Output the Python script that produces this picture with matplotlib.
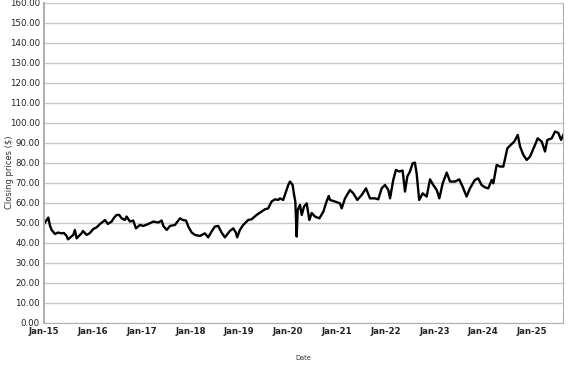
import numpy as np
import pandas as pd
import matplotlib
matplotlib.use("Agg")
import matplotlib.pyplot as plt
import matplotlib.dates as mdates
from matplotlib.ticker import FormatStrFormatter

# closing prices
dates = [
    "2015-01-02", "2015-01-16", "2015-02-02", "2015-02-15", "2015-02-27", "2015-03-24",
    "2015-04-15", "2015-05-13", "2015-05-30", "2015-06-19", "2015-06-29", "2015-07-21",
    "2015-08-08", "2015-08-20", "2015-09-02", "2015-09-19", "2015-10-09", "2015-10-19",
    "2015-11-16", "2015-12-11", "2016-01-05", "2016-01-30", "2016-02-24", "2016-03-19",
    "2016-04-01", "2016-04-23", "2016-05-21", "2016-06-07", "2016-06-27", "2016-07-17",
    "2016-08-04", "2016-08-29", "2016-09-10", "2016-10-05", "2016-10-30", "2016-11-19",
    "2016-12-19", "2017-01-13", "2017-02-20", "2017-03-29", "2017-05-05", "2017-05-31",
    "2017-06-12", "2017-07-07", "2017-08-01", "2017-09-07", "2017-09-20", "2017-10-15",
    "2017-11-04", "2017-11-29", "2017-12-16", "2018-01-10", "2018-02-04", "2018-03-13",
    "2018-04-19", "2018-05-14", "2018-06-08", "2018-07-03", "2018-07-28", "2018-08-22",
    "2018-09-16", "2018-10-23", "2018-11-17", "2018-12-07", "2018-12-17", "2019-01-06",
    "2019-01-31", "2019-03-09", "2019-04-03", "2019-05-11", "2019-06-17", "2019-07-12",
    "2019-08-06", "2019-08-31", "2019-09-25", "2019-10-20", "2019-11-02", "2019-11-26",
    "2019-12-09", "2019-12-24", "2020-01-03", "2020-01-16", "2020-02-05", "2020-02-15",
    "2020-02-25", "2020-03-06", "2020-03-14", "2020-03-31", "2020-04-13", "2020-04-30",
    "2020-05-20", "2020-06-09", "2020-06-27", "2020-07-21", "2020-08-23", "2020-09-22",
    "2020-10-17", "2020-11-01", "2020-11-11", "2020-12-18", "2021-01-24", "2021-02-06",
    "2021-03-03", "2021-04-09", "2021-05-04", "2021-06-03", "2021-07-06", "2021-08-07",
    "2021-09-06", "2021-10-13", "2021-11-07", "2021-12-02", "2021-12-27", "2022-01-21",
    "2022-02-03", "2022-02-27", "2022-03-19", "2022-04-13", "2022-05-08", "2022-05-26",
    "2022-06-12", "2022-07-02", "2022-07-22", "2022-08-08", "2022-08-21", "2022-09-09",
    "2022-10-05", "2022-11-04", "2022-11-29", "2022-12-23", "2023-01-18", "2023-02-07",
    "2023-03-04", "2023-04-03", "2023-04-28", "2023-06-04", "2023-07-06", "2023-07-31",
    "2023-08-30", "2023-09-24", "2023-10-31", "2023-11-25", "2023-12-20", "2024-01-14",
    "2024-02-08", "2024-03-05", "2024-03-17", "2024-04-11", "2024-05-06", "2024-05-31",
    "2024-06-30", "2024-07-25", "2024-08-21", "2024-09-16", "2024-10-03", "2024-10-28",
    "2024-11-22", "2024-12-17", "2025-01-23", "2025-02-12", "2025-03-14", "2025-04-08",
    "2025-04-25", "2025-05-28", "2025-06-22", "2025-07-17", "2025-08-06", "2025-08-23",
]
prices = [
    49.5, 51.0, 52.7, 48.5, 46.5, 44.5,
    45.2, 44.8, 45.0, 43.5, 41.8, 43.0,
    44.0, 46.5, 42.3, 43.5, 44.8, 46.0,
    44.0, 45.0, 47.0, 47.8, 49.5, 50.7,
    51.5, 49.5, 50.7, 52.5, 54.0, 54.0,
    52.3, 51.5, 53.2, 50.7, 51.2, 47.3,
    49.0, 48.5, 49.5, 50.7, 50.2, 51.2,
    48.5, 46.5, 48.5, 49.0, 50.2, 52.3,
    51.5, 51.2, 48.2, 45.2, 44.0, 43.5,
    44.8, 42.8, 45.7, 48.2, 48.5, 45.2,
    42.8, 46.0, 47.3, 45.2, 42.8, 46.5,
    49.0, 51.5, 51.8, 54.0, 55.7, 56.8,
    57.3, 60.7, 61.8, 61.5, 62.3, 61.5,
    64.0, 67.0, 69.0, 70.7, 69.0, 64.3,
    60.7, 43.2, 56.5, 59.0, 54.0, 58.2,
    59.8, 51.5, 55.0, 53.2, 52.3, 55.7,
    61.0, 63.5, 61.5, 60.7, 59.8, 57.3,
    62.3, 66.5, 64.8, 61.5, 64.0, 67.3,
    62.3, 62.3, 61.8, 67.3, 69.0, 66.5,
    62.3, 71.5, 76.5, 75.7, 76.2, 65.7,
    73.2, 75.7, 79.8, 80.2, 74.8, 61.5,
    64.8, 63.2, 71.8, 69.0, 66.5, 62.3,
    69.8, 75.2, 70.7, 70.7, 71.8, 68.2,
    63.2, 67.3, 71.5, 72.3, 69.0, 67.8,
    67.3, 71.5, 69.8, 79.0, 78.2, 78.2,
    87.3, 89.0, 90.7, 94.0, 88.2, 84.0,
    81.5, 83.2, 89.0, 92.3, 90.7, 85.7,
    91.5, 92.3, 95.7, 95.0, 91.5, 94.0,
]
year_ticks = ["2015-01-01", "2016-01-01", "2017-01-01", "2018-01-01", "2019-01-01", "2020-01-01",
              "2021-01-01", "2022-01-01", "2023-01-01", "2024-01-01", "2025-01-01"]

df = pd.DataFrame({"date": pd.to_datetime(dates), "close": prices})

fig = plt.figure(figsize=(5.77, 3.67), dpi=100)
ax = fig.add_axes([0.0763, 0.12, 0.9, 0.872])

ax.plot(df["date"], df["close"], color="black", lw=1.7)

ax.set_ylim(0, 160)
ax.set_yticks(np.arange(0, 161, 10))
ax.yaxis.set_major_formatter(FormatStrFormatter("%.2f"))
ax.set_xlim(pd.Timestamp("2015-01-01"), df["date"].iloc[-1])
ax.set_xticks(pd.to_datetime(year_ticks))
ax.xaxis.set_major_formatter(mdates.DateFormatter("%b-%y"))

ax.grid(axis="y", color="#c8c8c8", lw=1)
ax.set_axisbelow(True)
for side in ["left", "bottom", "right"]:
    ax.spines[side].set_color("#b0b0b0")
ax.spines["left"].set_linewidth(1.5)
ax.spines["top"].set_visible(False)
ax.tick_params(length=0, pad=3, labelsize=6.2, labelcolor="#222222")
for lbl in ax.get_xticklabels():
    lbl.set_fontweight("bold")

fig.text(0.017, 0.53, "Closing prices ($)", rotation=90, fontsize=6,
         color="#333333", ha="center", va="center")
fig.text(0.525, 0.025, "Date", fontsize=4.8, color="#333333", ha="center", va="center")

fig.savefig("out.png", dpi=100)
